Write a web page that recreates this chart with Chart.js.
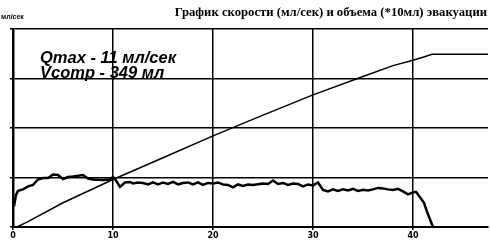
<!DOCTYPE html>
<html>
<head>
<meta charset="utf-8">
<script src="https://cdn.jsdelivr.net/npm/chart.js@4"></script>
<style>
  html, body { margin: 0; padding: 0; background: #fff; }
  #wrap { position: relative; width: 490px; height: 245px; }
</style>
</head>
<body>
<div id="wrap"><canvas id="evac" width="490" height="245"></canvas></div>
<script>
// время, сек
const speedT = [0.1, 0.3, 0.5, 1, 1.5, 2, 2.5, 3, 3.5, 4, 4.5, 5, 5.5, 6, 7, 7.5, 8, 9, 9.7, 10, 10.3, 10.7, 11.2, 11.7, 12, 12.5, 13, 13.5, 14, 14.5, 15, 15.5, 16, 16.5, 17, 17.5, 18, 18.5, 19, 19.5, 20, 20.5, 21, 21.5, 22, 22.5, 23, 23.5, 24, 25, 25.5, 26, 26.5, 27, 27.5, 28, 28.5, 29, 29.5, 30, 30.5, 31, 31.5, 32, 32.5, 33, 33.5, 34, 34.5, 35, 35.5, 36, 36.5, 37, 37.5, 38, 38.5, 39, 39.5, 40, 40.3, 40.7, 41.1, 41.4, 41.8, 42];
// скорость, мл/сек
const speedV = [4.2, 6.5, 7.3, 7.6, 8.2, 8.5, 9.6, 9.9, 9.9, 10.6, 10.5, 9.7, 10.1, 10.2, 10.5, 9.8, 9.6, 9.5, 9.6, 10.1, 9.4, 8.1, 9.0, 9.1, 8.8, 9.0, 8.9, 8.6, 9.0, 8.6, 9.0, 8.7, 9.1, 8.6, 8.9, 9.0, 8.6, 9.0, 8.5, 8.9, 8.8, 9.0, 8.6, 8.5, 8.0, 8.6, 8.3, 8.6, 8.5, 8.8, 8.7, 9.4, 8.7, 8.9, 8.5, 8.8, 8.7, 8.2, 8.6, 8.4, 9.0, 7.5, 7.2, 7.6, 7.3, 7.6, 7.4, 7.7, 7.3, 7.5, 7.4, 7.6, 7.9, 7.8, 7.6, 7.5, 7.7, 7.2, 6.6, 7.0, 7.1, 6.0, 4.9, 3.1, 1.0, 0];
// объем, *10 мл
const volT = [0.4, 1.4, 5, 10, 15, 20, 25, 30, 35, 38, 40, 41, 41.9, 47.5];
const volV = [0, 1.0, 4.9, 9.6, 14.0, 18.4, 22.6, 26.7, 30.4, 32.6, 33.7, 34.3, 34.9, 34.9];
const xTicks = [0, 10, 20, 30, 40];

const title = "График скорости (мл/сек) и объема (*10мл) эвакуации";
const noteLines = ["Qmax - 11 мл/сек", "Vсотр - 349 мл"];
const unitLabel = "мл/сек";

const toPts = (xs, ys) => xs.map((x, i) => ({ x: x, y: ys[i] }));

// подписи поверх графика
const textPlugin = {
    id: 'texts',
    afterDraw(chart) {
        const ctx = chart.ctx;
        ctx.save();
        ctx.fillStyle = '#000';
        ctx.textBaseline = 'alphabetic';
        ctx.font = 'bold 12.7px "Liberation Serif", serif';
        ctx.textAlign = 'right';
        ctx.fillText(title, 487, 16);
        ctx.textAlign = 'left';
        ctx.font = 'bold 7px "Liberation Sans", sans-serif';
        ctx.fillText(unitLabel, 1, 19);
        ctx.font = 'bold italic 16.5px "Liberation Sans", Arial, sans-serif';
        ctx.fillText(noteLines[0], 40, 63);
        ctx.fillText(noteLines[1], 40, 78);
        ctx.restore();
    }
};

new Chart(document.getElementById('evac'), {
    type: 'line',
    data: {
        datasets: [
            {
                label: 'скорость',
                data: toPts(speedT, speedV),
                borderColor: '#000',
                borderWidth: 2.5,
                pointRadius: 0,
                tension: 0
            },
            {
                label: 'объем',
                data: toPts(volT, volV),
                borderColor: '#000',
                borderWidth: 1.5,
                pointRadius: 0,
                tension: 0
            }
        ]
    },
    options: {
        responsive: false,
        animation: false,
        layout: { padding: { top: 29, right: 2, left: 0, bottom: 0 } },
        plugins: { legend: { display: false }, tooltip: { enabled: false } },
        scales: {
            x: {
                type: 'linear',
                min: 0,
                max: 47.5,
                afterFit: s => { s.height = 18; },
                afterBuildTicks: s => { s.ticks = xTicks.map(v => ({ value: v })); },
                grid: { color: '#000', lineWidth: 1.5, tickLength: 3 },
                border: { color: '#000', width: 2 },
                ticks: {
                    color: '#000',
                    padding: 1,
                    maxRotation: 0,
                    font: { family: '"DejaVu Sans"', size: 8, weight: 'bold' }
                }
            },
            y: {
                min: 0,
                max: 40,
                afterFit: s => { s.width = 13; },
                grid: { color: '#000', lineWidth: 1.5, tickLength: 3 },
                border: { color: '#000', width: 2.5 },
                ticks: { stepSize: 10, callback: () => '' }
            }
        }
    },
    plugins: [textPlugin]
});
</script>
</body>
</html>
